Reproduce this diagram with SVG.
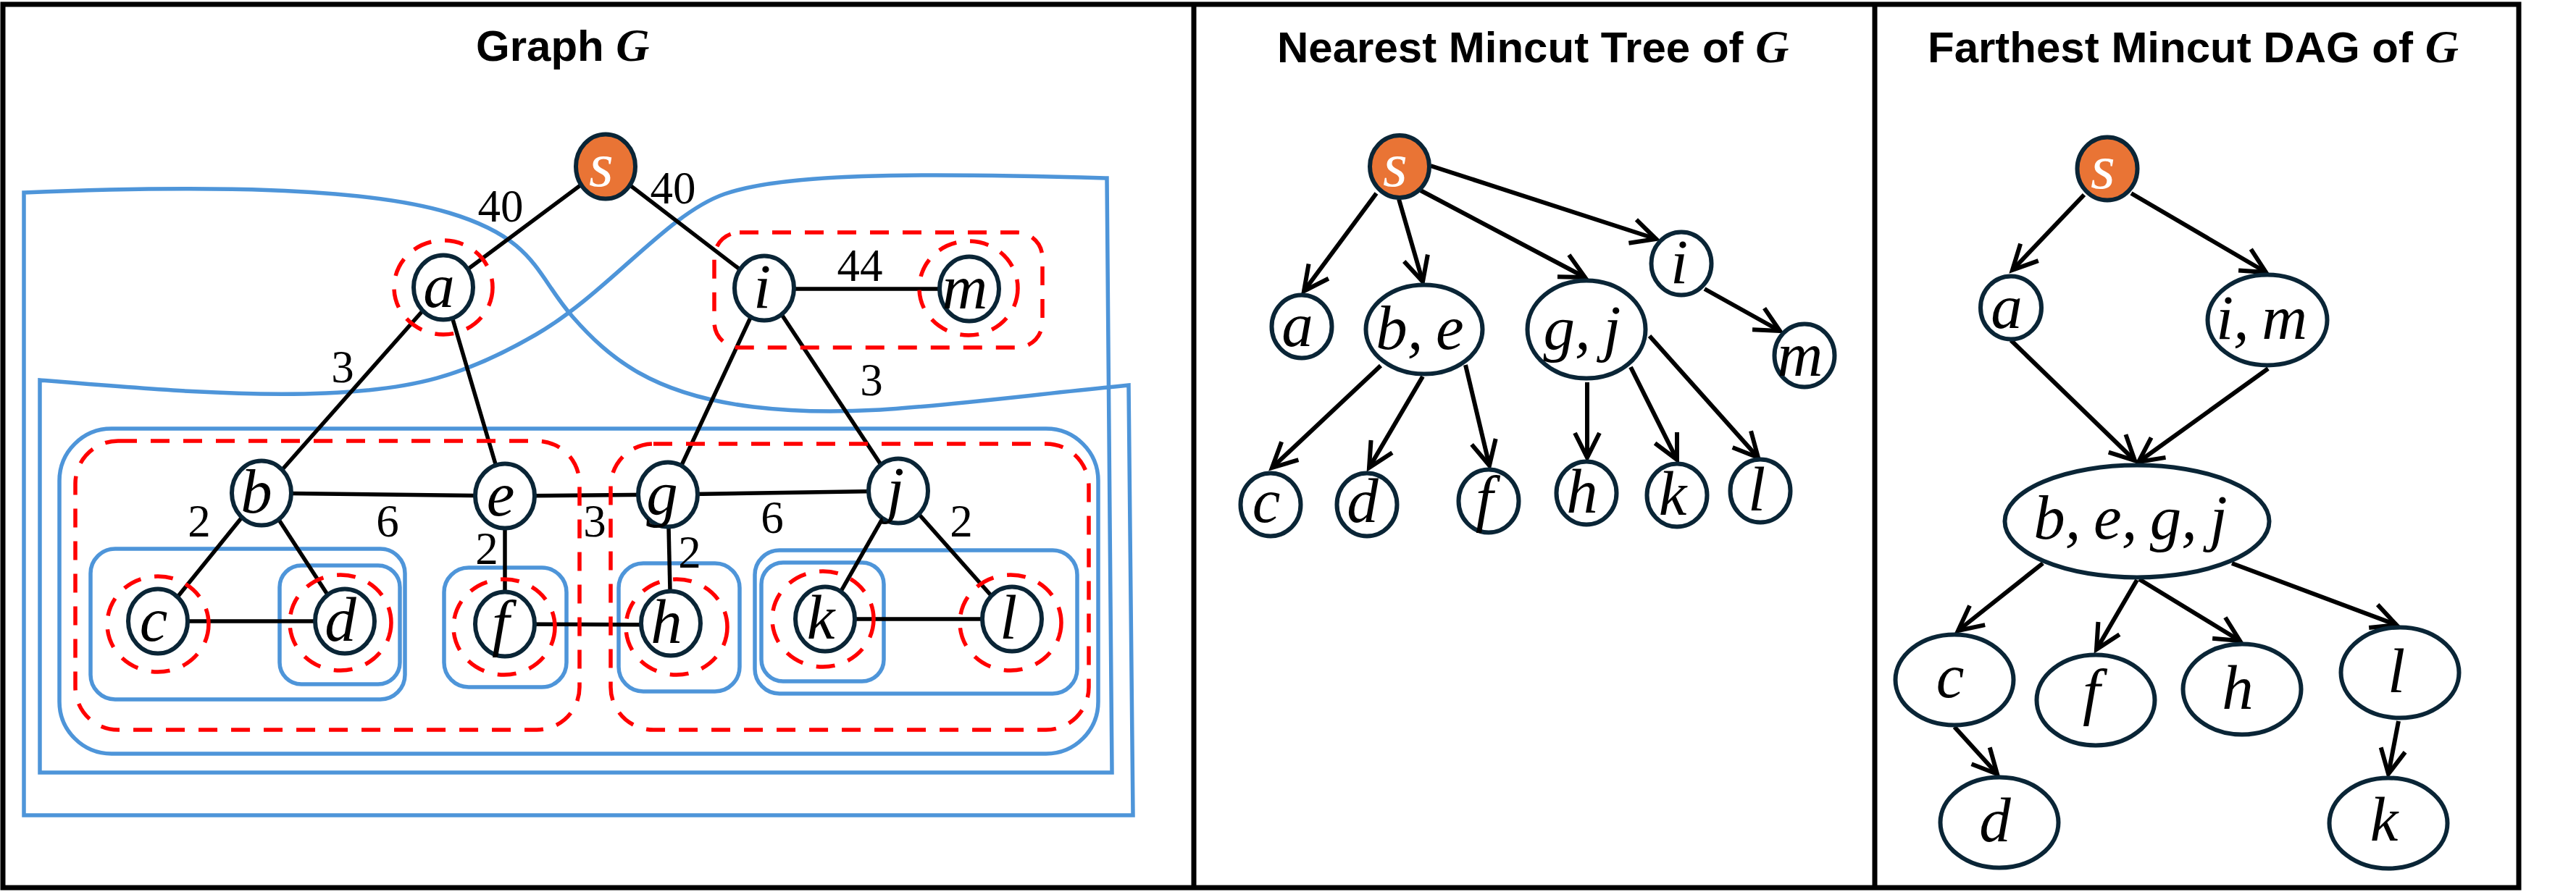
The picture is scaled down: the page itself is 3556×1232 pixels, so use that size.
<svg xmlns="http://www.w3.org/2000/svg" width="3556" height="1232" viewBox="0 0 3556 1232">
<defs>
<style>
.frame{fill:none;stroke:#000;stroke-width:7}
.title{font-family:"Liberation Sans",Arial,sans-serif;font-weight:bold;font-size:60px;fill:#000}
.tg{font-family:"Liberation Serif","Times New Roman",serif;font-style:italic;font-weight:bold;font-size:64px}
.blue{fill:none;stroke:#4E95D9;stroke-width:5.5}
.red{fill:none;stroke:#FF0000;stroke-width:5.5;stroke-dasharray:26 19}
.edge{stroke:#000;stroke-width:5.5;fill:none}
.arrow{stroke:#000;stroke-width:6;fill:none;marker-end:url(#arr)}
.node{fill:#fff;stroke:#0A2536;stroke-width:6}
.src{fill:#E97435;stroke:#0A2536;stroke-width:6}
.lbl{font-family:"Liberation Serif","Times New Roman",serif;font-style:italic;font-size:87px;fill:#000;text-anchor:middle}
.slbl{font-family:"Liberation Serif","Times New Roman",serif;font-style:italic;font-size:87px;fill:#fff;text-anchor:middle}
.w{font-family:"Liberation Serif","Times New Roman",serif;font-size:63px;fill:#000;text-anchor:middle}
</style>
<marker id="arr" markerUnits="userSpaceOnUse" viewBox="-42 -24 48 48" refX="0" refY="0" markerWidth="48" markerHeight="48" orient="auto" overflow="visible">
<path d="M-34,-17 L0,0 L-34,17" fill="none" stroke="#000" stroke-width="6" stroke-linejoin="miter"/>
</marker>
</defs>
<rect width="3556" height="1232" fill="#fff"/>

<!-- panel frames -->
<g id="frames">
<rect class="frame" x="4" y="6" width="3473" height="1220"/>
<line class="frame" x1="1648" y1="6" x2="1648" y2="1226"/>
<line class="frame" x1="2588" y1="6" x2="2588" y2="1226"/>
</g>

<!-- titles -->
<g id="titles">
<text class="title" x="657" y="84">Graph <tspan class="tg">G</tspan></text>
<text class="title" x="1763" y="86">Nearest Mincut Tree of <tspan class="tg">G</tspan></text>
<text class="title" x="2661" y="86">Farthest Mincut DAG of <tspan class="tg">G</tspan></text>
</g>

<!-- blue mincut regions -->
<g id="blue-regions">
<path class="blue" d="M33,1126 L33,266 C280,256 500,258 620,294 S740,380 790,437 S900,545 1040,562 S1300,558 1558,532 L1564,1126 Z"/>
<path class="blue" d="M55,1067 L55,525 C200,537 330,548 450,543 S640,520 740,462 S920,296 1000,268 S1250,238 1528,246 L1535,1067 Z"/>
<rect class="blue" x="82" y="592" width="1434" height="449" rx="72"/>
<rect class="blue" x="125" y="758" width="434" height="208" rx="34"/>
<rect class="blue" x="386" y="781" width="166" height="164" rx="30"/>
<rect class="blue" x="613" y="784" width="169" height="165" rx="34"/>
<rect class="blue" x="854" y="778" width="167" height="177" rx="34"/>
<rect class="blue" x="1042" y="760" width="445" height="198" rx="34"/>
<rect class="blue" x="1051" y="777" width="169" height="164" rx="30"/>
</g>

<!-- connectors -->
<g id="connectors">
<g id="graph-edges">
<line class="edge" x1="836" y1="230" x2="612" y2="397"/>
<line class="edge" x1="836" y1="230" x2="1055" y2="398"/>
<line class="edge" x1="1055" y1="399" x2="1338" y2="399"/>
<line class="edge" x1="612" y1="397" x2="361" y2="681"/>
<line class="edge" x1="612" y1="397" x2="697" y2="685"/>
<line class="edge" x1="1055" y1="398" x2="922" y2="683"/>
<line class="edge" x1="1055" y1="398" x2="1240" y2="678"/>
<line class="edge" x1="361" y1="681" x2="697" y2="685"/>
<line class="edge" x1="697" y1="685" x2="922" y2="683"/>
<line class="edge" x1="922" y1="683" x2="1240" y2="678"/>
<line class="edge" x1="361" y1="681" x2="218" y2="858"/>
<line class="edge" x1="361" y1="681" x2="476" y2="858"/>
<line class="edge" x1="218" y1="858" x2="476" y2="858"/>
<line class="edge" x1="697" y1="685" x2="697" y2="862"/>
<line class="edge" x1="697" y1="862" x2="926" y2="863"/>
<line class="edge" x1="922" y1="683" x2="926" y2="861"/>
<line class="edge" x1="1240" y1="678" x2="1139" y2="855"/>
<line class="edge" x1="1240" y1="678" x2="1397" y2="855"/>
<line class="edge" x1="1139" y1="855" x2="1397" y2="855"/>
</g>
<g id="edge-weights">
<text class="w" x="691" y="306">40</text>
<text class="w" x="929" y="281">40</text>
<text class="w" x="1187" y="388">44</text>
<text class="w" x="473" y="528">3</text>
<text class="w" x="1203" y="546">3</text>
<text class="w" x="275" y="741">2</text>
<text class="w" x="535" y="741">6</text>
<text class="w" x="821" y="741">3</text>
<text class="w" x="672" y="779">2</text>
<text class="w" x="952" y="784">2</text>
<text class="w" x="1066" y="736">6</text>
<text class="w" x="1327" y="741">2</text>
</g>
<g id="tree-arrows">
<line class="arrow" x1="1900" y1="267" x2="1800" y2="402"/>
<line class="arrow" x1="1931" y1="275" x2="1964" y2="389"/>
<line class="arrow" x1="1961" y1="263" x2="2188" y2="383"/>
<line class="arrow" x1="1975" y1="229" x2="2286" y2="330"/>
<line class="arrow" x1="2353" y1="399" x2="2457" y2="457"/>
<line class="arrow" x1="1906" y1="505" x2="1756" y2="646"/>
<line class="arrow" x1="1964" y1="520" x2="1890" y2="646"/>
<line class="arrow" x1="2023" y1="504" x2="2056" y2="643"/>
<line class="arrow" x1="2191" y1="528" x2="2191" y2="632"/>
<line class="arrow" x1="2251" y1="507" x2="2315" y2="635"/>
<line class="arrow" x1="2277" y1="464" x2="2427" y2="632"/>
</g>
<g id="dag-arrows">
<line class="arrow" x1="2877" y1="269" x2="2778" y2="373"/>
<line class="arrow" x1="2942" y1="267" x2="3128" y2="376"/>
<line class="arrow" x1="2776" y1="470" x2="2947" y2="636"/>
<line class="arrow" x1="3131" y1="509" x2="2952" y2="638"/>
<line class="arrow" x1="2820" y1="778" x2="2703" y2="871"/>
<line class="arrow" x1="2950" y1="801" x2="2894" y2="897"/>
<line class="arrow" x1="2953" y1="800" x2="3092" y2="885"/>
<line class="arrow" x1="3081" y1="778" x2="3308" y2="863"/>
<line class="arrow" x1="2698" y1="1004" x2="2757" y2="1069"/>
<line class="arrow" x1="3311" y1="996" x2="3297" y2="1069"/>
</g>
</g>

<!-- red dashed groups -->
<g id="red-regions">
<rect class="red" x="104" y="609" width="696" height="399" rx="59"/>
<rect class="red" x="843" y="613" width="660" height="395" rx="59"/>
<rect class="red" x="986" y="321" width="453" height="159" rx="35"/>
<ellipse class="red" cx="612" cy="397" rx="68" ry="65"/>
<ellipse class="red" cx="1337" cy="398" rx="68" ry="65"/>
<ellipse class="red" cx="218" cy="862" rx="70" ry="66"/>
<ellipse class="red" cx="470" cy="860" rx="70" ry="66"/>
<ellipse class="red" cx="696" cy="866" rx="70" ry="66"/>
<ellipse class="red" cx="934" cy="866" rx="70" ry="66"/>
<ellipse class="red" cx="1136" cy="855" rx="70" ry="66"/>
<ellipse class="red" cx="1395" cy="860" rx="70" ry="66"/>
</g>

<!-- Graph G nodes -->
<g id="g-s"><ellipse class="src" cx="836" cy="230" rx="41" ry="44.5"/><text class="slbl" x="830" y="257">s</text></g>
<g id="g-a"><ellipse class="node" cx="612" cy="397" rx="41" ry="44.5"/><text class="lbl" x="606" y="424">a</text></g>
<g id="g-i"><ellipse class="node" cx="1055" cy="398" rx="41" ry="44.5"/><text class="lbl" x="1052" y="425">i</text></g>
<g id="g-m"><ellipse class="node" cx="1338" cy="399" rx="41" ry="44.5"/><text class="lbl" x="1332" y="426">m</text></g>
<g id="g-b"><ellipse class="node" cx="361" cy="681" rx="41" ry="44.5"/><text class="lbl" x="354" y="708">b</text></g>
<g id="g-e"><ellipse class="node" cx="697" cy="685" rx="41" ry="44.5"/><text class="lbl" x="691" y="712">e</text></g>
<g id="g-g"><ellipse class="node" cx="922" cy="683" rx="41" ry="44.5"/><text class="lbl" x="914" y="710">g</text></g>
<g id="g-j"><ellipse class="node" cx="1240" cy="678" rx="41" ry="44.5"/><text class="lbl" x="1236" y="705">j</text></g>
<g id="g-c"><ellipse class="node" cx="218" cy="858" rx="41" ry="44.5"/><text class="lbl" x="212" y="885">c</text></g>
<g id="g-d"><ellipse class="node" cx="476" cy="858" rx="41" ry="44.5"/><text class="lbl" x="470" y="885">d</text></g>
<g id="g-f"><ellipse class="node" cx="697" cy="862" rx="41" ry="44.5"/><text class="lbl" x="691" y="889">f</text></g>
<g id="g-h"><ellipse class="node" cx="926" cy="861" rx="41" ry="44.5"/><text class="lbl" x="920" y="888">h</text></g>
<g id="g-k"><ellipse class="node" cx="1139" cy="855" rx="41" ry="44.5"/><text class="lbl" x="1133" y="882">k</text></g>
<g id="g-l"><ellipse class="node" cx="1397" cy="855" rx="41" ry="44.5"/><text class="lbl" x="1392" y="882">l</text></g>

<!-- Nearest Mincut Tree nodes -->
<g id="t-s"><ellipse class="src" cx="1932" cy="230" rx="41" ry="43"/><text class="slbl" x="1926" y="257">s</text></g>
<g id="t-a"><ellipse class="node" cx="1797" cy="451" rx="41.5" ry="43.5"/><text class="lbl" x="1791" y="478">a</text></g>
<g id="t-be"><ellipse class="node" cx="1966" cy="455" rx="80.5" ry="61.5"/><text class="lbl" x="1960" y="482">b,&#8201;e</text></g>
<g id="t-gj"><ellipse class="node" cx="2190" cy="455" rx="81.5" ry="67.5"/><text class="lbl" x="2184" y="482">g,&#8201;j</text></g>
<g id="t-i"><ellipse class="node" cx="2321" cy="364" rx="41.5" ry="43.5"/><text class="lbl" x="2318" y="391">i</text></g>
<g id="t-m"><ellipse class="node" cx="2491" cy="491" rx="41.5" ry="43.5"/><text class="lbl" x="2485" y="519">m</text></g>
<g id="t-c"><ellipse class="node" cx="1754" cy="697" rx="41.5" ry="43.5"/><text class="lbl" x="1748" y="721">c</text></g>
<g id="t-d"><ellipse class="node" cx="1887" cy="697" rx="41.5" ry="43.5"/><text class="lbl" x="1881" y="721">d</text></g>
<g id="t-f"><ellipse class="node" cx="2055" cy="692" rx="41.5" ry="43.5"/><text class="lbl" x="2049" y="717">f</text></g>
<g id="t-h"><ellipse class="node" cx="2190" cy="681" rx="41.5" ry="43.5"/><text class="lbl" x="2184" y="708">h</text></g>
<g id="t-k"><ellipse class="node" cx="2315" cy="684" rx="41.5" ry="43.5"/><text class="lbl" x="2309" y="711">k</text></g>
<g id="t-l"><ellipse class="node" cx="2430" cy="678" rx="41.5" ry="43.5"/><text class="lbl" x="2425" y="705">l</text></g>

<!-- Farthest Mincut DAG nodes -->
<g id="d-s"><ellipse class="src" cx="2909" cy="233" rx="41.5" ry="43.5"/><text class="slbl" x="2903" y="260">s</text></g>
<g id="d-a"><ellipse class="node" cx="2776" cy="425" rx="42" ry="43.5"/><text class="lbl" x="2770" y="453">a</text></g>
<g id="d-im"><ellipse class="node" cx="3130" cy="442" rx="82.5" ry="62.5"/><text class="lbl" x="3122" y="468">i,&#8201;m</text></g>
<g id="d-begj"><ellipse class="node" cx="2950" cy="720" rx="182.5" ry="77.5"/><text class="lbl" x="2941" y="744">b,&#8201;e,&#8201;g,&#8201;j</text></g>
<g id="d-c"><ellipse class="node" cx="2698" cy="939" rx="81.5" ry="62.5"/><text class="lbl" x="2692" y="963">c</text></g>
<g id="d-f"><ellipse class="node" cx="2893" cy="967" rx="81.5" ry="62.5"/><text class="lbl" x="2887" y="984">f</text></g>
<g id="d-h"><ellipse class="node" cx="3095" cy="952" rx="81.5" ry="62.5"/><text class="lbl" x="3089" y="979">h</text></g>
<g id="d-l"><ellipse class="node" cx="3313" cy="929" rx="81.5" ry="62.5"/><text class="lbl" x="3308" y="956">l</text></g>
<g id="d-d"><ellipse class="node" cx="2760" cy="1136" rx="81.5" ry="62.5"/><text class="lbl" x="2754" y="1162">d</text></g>
<g id="d-k"><ellipse class="node" cx="3297" cy="1137" rx="81.5" ry="62.5"/><text class="lbl" x="3291" y="1161">k</text></g>
</svg>
